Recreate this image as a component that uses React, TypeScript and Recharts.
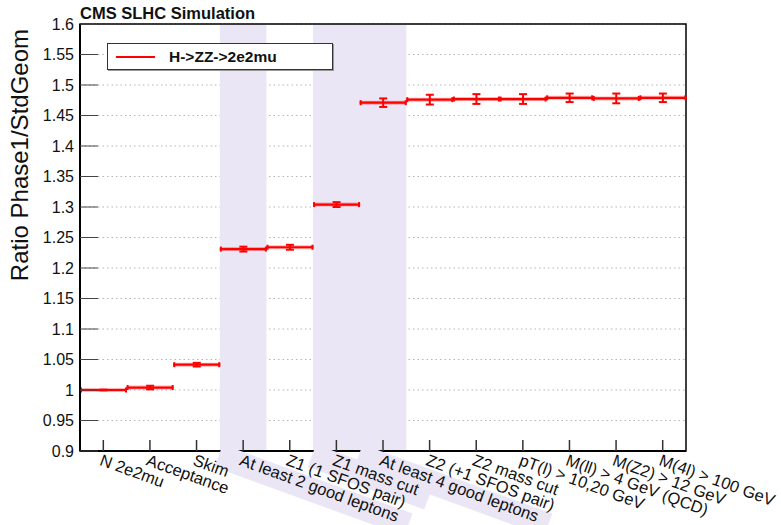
import { Bar, BarChart, CartesianGrid, ErrorBar, ReferenceArea, XAxis, YAxis } from "recharts";

const cuts = [
  "N 2e2mu",
  "Acceptance",
  "Skim",
  "At least 2 good leptons",
  "Z1 (1 SFOS pair)",
  "Z1 mass cut",
  "At least 4 good leptons",
  "Z2 (+1 SFOS pair)",
  "Z2 mass cut",
  "pT(l) > 10,20 GeV",
  "M(ll) > 4 GeV (QCD)",
  "M(Z2) > 12 GeV",
  "M(4l) > 100 GeV",
];
const ratio = [1.0, 1.004, 1.0415, 1.231, 1.234, 1.304, 1.471, 1.476, 1.477, 1.477, 1.479, 1.478, 1.479];
const ratioErr = [0.0005, 0.003, 0.003, 0.004, 0.004, 0.004, 0.007, 0.008, 0.008, 0.008, 0.007, 0.008, 0.007];
const highlighted = ["At least 2 good leptons", "Z1 mass cut", "At least 4 good leptons"];
const bands = [
  ["At least 2 good leptons", "At least 2 good leptons"],
  ["Z1 mass cut", "At least 4 good leptons"],
];
const yTicks = [0.9, 0.95, 1, 1.05, 1.1, 1.15, 1.2, 1.25, 1.3, 1.35, 1.4, 1.45, 1.5, 1.55, 1.6];

const data = cuts.map((cut, i) => ({ cut, ratio: ratio[i], err: ratioErr[i] }));

const FONT = "'Liberation Sans', Arial, Helvetica, sans-serif";
const RED = "#ff0000";
const BAND = "#ebe6f6";
const ANGLE = 20;
const LABEL_SIZE = 16.5;

let ctx: CanvasRenderingContext2D | null = null;
function textWidth(s: string, font: string) {
  if (!ctx) ctx = document.createElement("canvas").getContext("2d");
  if (!ctx) return s.length * 8;
  ctx.font = font;
  return ctx.measureText(s).width;
}

function BinLine(props: any) {
  const { x, y, width } = props;
  return (
    <g>
      <line x1={x} x2={x + width} y1={y} y2={y} stroke={RED} strokeOpacity={0.3} strokeWidth={4} />
      <line x1={x} x2={x + width} y1={y} y2={y} stroke={RED} strokeWidth={2.2} />
      <line x1={x + 1} x2={x + 1} y1={y - 2.5} y2={y + 2.5} stroke={RED} strokeWidth={2} />
      <line x1={x + width - 1} x2={x + width - 1} y1={y - 2.5} y2={y + 2.5} stroke={RED} strokeWidth={2} />
    </g>
  );
}

// label backgrounds, drawn on their own axis so every label text sits above them
function CutBackground(props: any) {
  const { x, y, payload } = props;
  const label = String(payload.value);
  if (!highlighted.includes(label)) return <g />;
  const w = textWidth(label, `${LABEL_SIZE}px ${FONT}`);
  return (
    <g transform={`translate(${x},${y + 1}) rotate(${ANGLE})`}>
      <rect x={-22} y={-1} width={w + 34} height={24} fill={BAND} />
    </g>
  );
}

function CutTick(props: any) {
  const { x, y, payload } = props;
  return (
    <g>
      <line x1={x} x2={x} y1={y} y2={y - 11} stroke="#333" strokeWidth={1.5} />
      <g transform={`translate(${x},${y + 1}) rotate(${ANGLE})`}>
        <text x={0} y={13.5} fontSize={LABEL_SIZE} fontFamily={FONT} fill="#111">
          {payload.value}
        </text>
      </g>
    </g>
  );
}

function RatioTick(props: any) {
  const { x, y, payload } = props;
  return (
    <g>
      <line x1={x} x2={x + 18} y1={y} y2={y} stroke="#444" strokeWidth={1} />
      <text x={x - 6} y={y} textAnchor="end" dominantBaseline="central" fontSize={16} fontFamily={FONT} fill="#111">
        {payload.value}
      </text>
    </g>
  );
}

export default function App() {
  return (
    <div style={{ position: "absolute", left: 0, top: 0, width: 781, height: 525, background: "#fff" }}>
      <BarChart
        width={781}
        height={525}
        data={data}
        barCategoryGap={0}
        margin={{ top: 24, right: 95, bottom: 72, left: 79 }}
      >
        {bands.map(([a, b]) => (
          <ReferenceArea key={a} x1={a} x2={b} y1={0.9} y2={1.6} fill={BAND} fillOpacity={1} stroke="none" ifOverflow="visible" />
        ))}
        <CartesianGrid vertical={false} stroke="#b5b5b5" strokeDasharray="1.5 3" />
        <XAxis
          xAxisId="bg"
          dataKey="cut"
          type="category"
          height={1}
          interval={0}
          tickSize={0}
          tickMargin={0}
          tickLine={false}
          axisLine={false}
          tick={<CutBackground />}
        />
        <XAxis
          dataKey="cut"
          type="category"
          height={1}
          interval={0}
          tickSize={0}
          tickMargin={0}
          tickLine={false}
          axisLine={{ stroke: "#000", strokeWidth: 2 }}
          tick={<CutTick />}
        />
        <YAxis
          type="number"
          domain={[0.9, 1.6]}
          ticks={yTicks}
          interval={0}
          width={1}
          tickSize={0}
          tickMargin={0}
          tickLine={false}
          axisLine={{ stroke: "#000", strokeWidth: 2 }}
          tick={<RatioTick />}
        />
        <ReferenceArea y1={0.9} y2={1.6} fill="none" stroke="#000" strokeWidth={1.5} ifOverflow="visible" />
        <Bar dataKey="ratio" shape={<BinLine />} isAnimationActive={false}>
          <ErrorBar dataKey="err" width={4} stroke={RED} strokeWidth={2} direction="y" isAnimationActive={false} />
        </Bar>
      </BarChart>
      <svg width={781} height={525} style={{ position: "absolute", left: 0, top: 0, pointerEvents: "none" }}>
        <text x={80} y={19} fontSize={16.5} fontWeight="bold" fontFamily={FONT} fill="#111">
          CMS SLHC Simulation
        </text>
        <text transform="translate(28,29) rotate(-90)" textAnchor="end" fontSize={24} fontFamily={FONT} fill="#111">
          Ratio Phase1/StdGeom
        </text>
      </svg>
      <div
        style={{
          position: "absolute",
          left: 107,
          top: 43,
          width: 224,
          height: 25,
          border: "1px solid #333",
          boxShadow: "1px 1px 0 #999",
          background: "#fff",
          display: "flex",
          alignItems: "center",
          fontFamily: FONT,
        }}
      >
        <div style={{ width: 39, height: 2, background: RED, marginLeft: 8, marginRight: 14 }} />
        <span style={{ fontSize: 15.5, fontWeight: "bold", color: "#111" }}>H-&gt;ZZ-&gt;2e2mu</span>
      </div>
    </div>
  );
}
